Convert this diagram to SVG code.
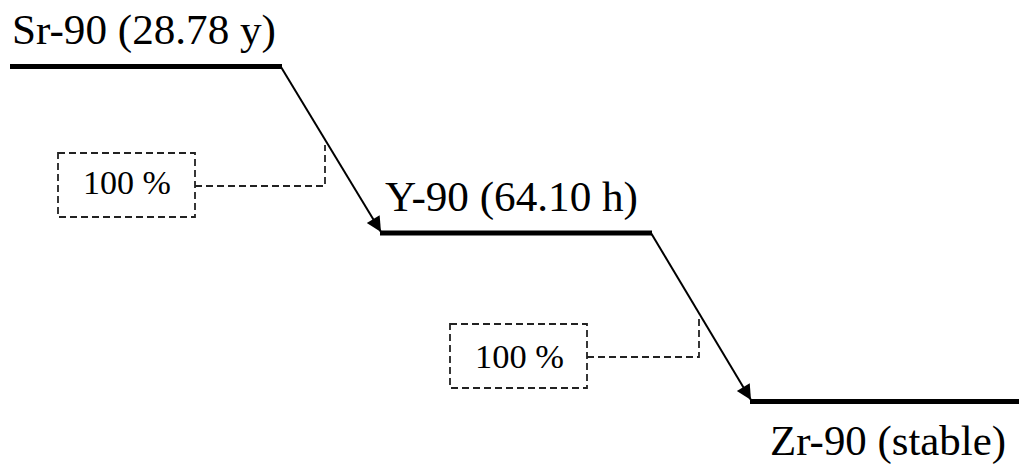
<svg xmlns="http://www.w3.org/2000/svg" width="1019" height="468" viewBox="0 0 1019 468">
<defs>
<style>
.lvl{stroke:#000;stroke-width:5;fill:none;stroke-linecap:butt}
.arr{stroke:#000;stroke-width:2;fill:none}
.dash{stroke:#222;stroke-width:1.8;fill:none;stroke-dasharray:7 4}
.big{font-family:"Liberation Serif","Times New Roman",serif;font-size:42px;fill:#000}
.pct{font-family:"Liberation Serif","Times New Roman",serif;font-size:34px;fill:#000}
</style>
<marker id="ah" viewBox="0 0 10 10" refX="10" refY="5" markerWidth="9" markerHeight="7.5" markerUnits="strokeWidth" orient="auto">
<path d="M0,0 L10,5 L0,10 Z" fill="#000"/>
</marker>
</defs>
<rect width="1019" height="468" fill="#fff"/>
<g id="sr90">
<line class="lvl" x1="10" y1="66.5" x2="282" y2="66.5"/>
<text class="big" x="12" y="44" textLength="264" lengthAdjust="spacingAndGlyphs">Sr-90 (28.78 y)</text>
</g>
<g id="y90">
<line class="lvl" x1="380" y1="233" x2="652" y2="233"/>
<text class="big" x="385" y="211" textLength="253" lengthAdjust="spacingAndGlyphs">Y-90 (64.10 h)</text>
</g>
<g id="zr90">
<line class="lvl" x1="750" y1="401.5" x2="1019" y2="401.5"/>
<text class="big" x="770" y="455" textLength="236" lengthAdjust="spacingAndGlyphs">Zr-90 (stable)</text>
</g>
<g id="label1">
<rect class="dash" x="58" y="153" width="137" height="64"/>
<text class="pct" x="83" y="194" textLength="88" lengthAdjust="spacingAndGlyphs">100 %</text>
</g>
<g id="label2">
<rect class="dash" x="450" y="324" width="137" height="64"/>
<text class="pct" x="475" y="368" textLength="89" lengthAdjust="spacingAndGlyphs">100 %</text>
</g>
<g id="connectors">
<line class="arr" x1="281" y1="67" x2="381" y2="232" marker-end="url(#ah)"/>
<line class="arr" x1="651" y1="233" x2="751" y2="400" marker-end="url(#ah)"/>
<polyline class="dash" points="195,186 325,186 325,145"/>
<polyline class="dash" points="587,357 699,357 699,315"/>
</g>
</svg>
